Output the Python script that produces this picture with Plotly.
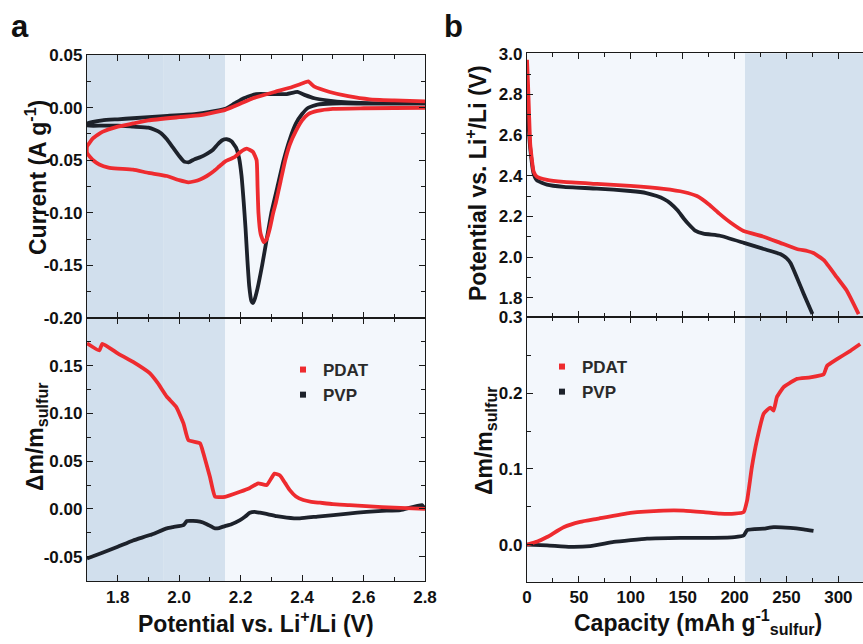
import plotly.graph_objects as go

# ---------------- DATA ----------------
# Panel a (top): cyclic voltammetry, potential (V) vs current (A/g); each loop = cathodic then anodic scan
pvp_cv_v = [2.80, 2.60, 2.50, 2.45, 2.42, 2.40, 2.38, 2.36, 2.34, 2.32, 2.30, 2.285, 2.27, 2.255, 2.245, 2.24,
            2.235, 2.228, 2.222, 2.216, 2.21, 2.203, 2.195, 2.185, 2.17, 2.155, 2.14, 2.125, 2.11, 2.09, 2.07,
            2.05, 2.03, 2.015, 2.00, 1.98, 1.96, 1.94, 1.92, 1.90, 1.85, 1.80, 1.75, 1.70,
            1.70, 1.75, 1.80, 1.85, 1.95, 2.05, 2.10, 2.15, 2.18, 2.21, 2.25, 2.30, 2.35, 2.385, 2.41, 2.44,
            2.48, 2.55, 2.65, 2.80]
pvp_cv_i = [0.004, 0.004, 0.004, 0.003, 0.000, -0.006, -0.015, -0.030, -0.050, -0.075, -0.100, -0.125, -0.150,
            -0.172, -0.183, -0.186, -0.184, -0.170, -0.145, -0.115, -0.090, -0.065, -0.048, -0.038, -0.032,
            -0.030, -0.031, -0.035, -0.040, -0.044, -0.047, -0.049, -0.052, -0.051, -0.046, -0.038, -0.030,
            -0.024, -0.021, -0.019, -0.018, -0.017, -0.017, -0.017,
            -0.015, -0.012, -0.011, -0.010, -0.008, -0.006, -0.004, -0.001, 0.004, 0.009, 0.013, 0.013, 0.013,
            0.015, 0.012, 0.009, 0.007, 0.005, 0.004, 0.004]

pdat_cv_v = [2.80, 2.60, 2.50, 2.45, 2.42, 2.40, 2.38, 2.36, 2.345, 2.33, 2.315, 2.306, 2.295, 2.285, 2.275,
             2.265, 2.258, 2.255, 2.252, 2.24, 2.22, 2.20, 2.18, 2.15, 2.13, 2.11, 2.09, 2.07, 2.05, 2.03,
             2.00, 1.96, 1.90, 1.85, 1.80, 1.77, 1.74, 1.72, 1.70,
             1.70, 1.72, 1.75, 1.80, 1.85, 1.90, 2.00, 2.07, 2.15, 2.20, 2.24, 2.31, 2.36, 2.40, 2.42, 2.44,
             2.49, 2.55, 2.62, 2.70, 2.80]
pdat_cv_i = [0.000, -0.0005, -0.001, -0.003, -0.006, -0.012, -0.022, -0.035, -0.050, -0.070, -0.090, -0.100,
             -0.115, -0.125, -0.128, -0.120, -0.100, -0.075, -0.050, -0.042, -0.039, -0.042, -0.047, -0.051,
             -0.056, -0.061, -0.065, -0.068, -0.070, -0.071, -0.069, -0.065, -0.062, -0.059, -0.058, -0.057,
             -0.054, -0.050, -0.043,
             -0.037, -0.029, -0.023, -0.018, -0.015, -0.012, -0.009, -0.007, -0.002, 0.004, 0.009, 0.015,
             0.019, 0.023, 0.025, 0.020, 0.015, 0.011, 0.008, 0.007, 0.006]

# Panel a (bottom): mass change vs potential
pdat_dm_v = [1.70, 1.74, 1.75, 1.80, 1.85, 1.905, 1.93, 1.96, 1.99, 2.014, 2.03, 2.068, 2.079, 2.10, 2.117,
             2.149, 2.198, 2.23, 2.257, 2.285, 2.31, 2.328, 2.345, 2.36, 2.38, 2.404, 2.43, 2.458, 2.50, 2.555,
             2.66, 2.80]
pdat_dm = [0.1735, 0.166, 0.173, 0.163, 0.154, 0.142, 0.132, 0.1175, 0.107, 0.0896, 0.072, 0.0687, 0.058,
           0.0337, 0.0127, 0.0127, 0.018, 0.022, 0.0267, 0.025, 0.037, 0.035, 0.027, 0.0197, 0.013, 0.0093,
           0.0075, 0.0065, 0.005, 0.004, 0.0019, 0.000]
pvp_dm_v = [1.70, 1.75, 1.80, 1.85, 1.905, 1.96, 1.98, 2.014, 2.025, 2.045, 2.068, 2.09, 2.117, 2.13, 2.149,
            2.17, 2.198, 2.215, 2.23, 2.245, 2.263, 2.28, 2.317, 2.35, 2.393, 2.45, 2.502, 2.55, 2.61, 2.66,
            2.72, 2.79, 2.80]
pvp_dm = [-0.0519, -0.046, -0.0397, -0.033, -0.0274, -0.0204, -0.019, -0.0169, -0.0127, -0.0125, -0.0134,
          -0.016, -0.0204, -0.020, -0.018, -0.016, -0.0117, -0.008, -0.004, -0.003, -0.004, -0.005, -0.0075,
          -0.009, -0.0099, -0.008, -0.0064, -0.005, -0.003, -0.002, -0.0012, 0.004, 0.000]

# Panel b (top): discharge potential vs capacity
pvp_cap = [0.5, 1.5, 3.2, 6.4, 9.6, 19.3, 35.3, 67.4, 99.5, 115, 125, 132, 138, 145, 151, 156, 162, 170, 186,
           209, 228, 244, 250, 254, 260, 266.5, 275]
pvp_pot = [2.75, 2.65, 2.53, 2.41, 2.377, 2.356, 2.345, 2.337, 2.325, 2.315, 2.30, 2.285, 2.265, 2.23, 2.19,
           2.16, 2.13, 2.115, 2.105, 2.07, 2.04, 2.015, 1.995, 1.97, 1.90, 1.82, 1.72]
pdat_cap = [0.0, 1.0, 2.0, 3.2, 6.4, 9.6, 19.3, 35.3, 67.4, 99.5, 131.6, 150.9, 163.7, 175, 185, 196, 208.7,
            228, 244, 260, 270, 276, 286, 298.6, 308, 319.5]
pdat_pot = [2.97, 2.85, 2.70, 2.55, 2.42, 2.395, 2.38, 2.37, 2.36, 2.35, 2.335, 2.32, 2.30, 2.26, 2.215,
            2.17, 2.128, 2.10, 2.07, 2.04, 2.03, 2.02, 1.985, 1.90, 1.836, 1.72]

# Panel b (bottom): mass change vs capacity
pdat_dm_cap = [0, 10, 19.3, 35.3, 51.3, 67.4, 99.5, 131.6, 150.9, 170.2, 186, 200, 208.7, 212, 216.6, 221.5,
               228, 234.4, 237.6, 240.8, 247.2, 253.7, 260, 272.9, 285.8, 289, 298.6, 311.5, 321]
pdat_dm_b = [0.0, 0.004, 0.010, 0.023, 0.030, 0.034, 0.042, 0.045, 0.045, 0.043, 0.041, 0.041, 0.043, 0.058,
             0.102, 0.138, 0.173, 0.181, 0.177, 0.195, 0.208, 0.214, 0.219, 0.221, 0.225, 0.236, 0.245, 0.256,
             0.265]
pvp_dm_cap = [0, 19.3, 41.7, 61, 83.5, 100, 115.6, 147.7, 179.8, 200, 208.7, 212, 228, 237.6, 253.7, 266.5, 276]
pvp_dm_b = [0.0, -0.001, -0.003, -0.002, 0.0035, 0.006, 0.008, 0.009, 0.009, 0.010, 0.012, 0.019, 0.021,
            0.023, 0.022, 0.020, 0.018]

# tick labels
a_cur_ticks = [0.05, 0.0, -0.05, -0.10, -0.15, -0.20]
a_cur_text = ["0.05", "0.00", "-0.05", "-0.10", "-0.15", "-0.20"]
a_dm_ticks = [0.15, 0.10, 0.05, 0.0, -0.05]
a_dm_text = ["0.15", "0.10", "0.05", "0.00", "-0.05"]
a_x_ticks = [1.8, 2.0, 2.2, 2.4, 2.6, 2.8]
a_x_text = ["1.8", "2.0", "2.2", "2.4", "2.6", "2.8"]
b_pot_ticks = [1.8, 2.0, 2.2, 2.4, 2.6, 2.8, 3.0]
b_pot_text = ["1.8", "2.0", "2.2", "2.4", "2.6", "2.8", "3.0"]
b_dm_ticks = [0.0, 0.1, 0.2, 0.3]
b_dm_text = ["0.0", "0.1", "0.2", "0.3"]
b_x_ticks = [0, 50, 100, 150, 200, 250, 300]
b_x_text = ["0", "50", "100", "150", "200", "250", "300"]

series_names = ["PDAT", "PVP"]

# ---------------- STYLE ----------------
RED = "#ee2b2f"
BLACK = "#1d222b"
DARK = "#d4e1ee"
DARK2 = "#d1dfed"
LIGHT = "#f3f7fc"
FONT = "Liberation Sans, Arial, sans-serif"
W, H = 863, 644

fig = go.Figure()

def line(x, y, color, xa, ya):
    fig.add_trace(go.Scatter(x=x, y=y, mode="lines", xaxis=xa, yaxis=ya, showlegend=False,
                             line=dict(color=color, width=3.8, shape="spline", smoothing=0.4),
                             hoverinfo="skip"))

line(pvp_cv_v, pvp_cv_i, BLACK, "x", "y")
line(pdat_cv_v, pdat_cv_i, RED, "x", "y")
line(pvp_dm_v, pvp_dm, BLACK, "x2", "y2")
line(pdat_dm_v, pdat_dm, RED, "x2", "y2")
line(pvp_cap, pvp_pot, BLACK, "x3", "y3")
line(pdat_cap, pdat_pot, RED, "x3", "y3")
line(pvp_dm_cap, pvp_dm_b, BLACK, "x4", "y4")
line(pdat_dm_cap, pdat_dm_b, RED, "x4", "y4")

# legend entries (marker-only)
for lg, xa, ya in (("legend", "x2", "y2"), ("legend2", "x4", "y4")):
    for name, col in zip(series_names, [RED, BLACK]):
        fig.add_trace(go.Scatter(x=[None], y=[None], mode="markers", name=name, legend=lg,
                                 xaxis=xa, yaxis=ya,
                                 marker=dict(symbol="square", size=6, color=col)))

def px_x(p):
    return p / W
def px_y(p):
    return 1 - p / H

tickfont = dict(family=FONT, size=17, color="#111", weight="bold")
common = dict(showline=True, linecolor="#1a1a1a", linewidth=1.3, ticks="inside", ticklen=6,
              tickwidth=1.3, tickcolor="#1a1a1a", showgrid=False, zeroline=False, tickfont=tickfont,
              automargin=False)

a_dom = [px_x(87), px_x(425)]
b_dom = [px_x(527), 1.0]

def minor(dt, t0):
    return dict(dtick=dt, tick0=t0, ticks="inside", ticklen=4, tickwidth=1.2, tickcolor="#1a1a1a")

fig.update_layout(
    template="none",
    width=W, height=H, autosize=False,
    margin=dict(l=0, r=0, t=0, b=0, pad=0, autoexpand=False),
    paper_bgcolor="white", plot_bgcolor="rgba(0,0,0,0)",
    xaxis=dict(domain=a_dom, range=[1.7, 2.8], anchor="y", tickvals=a_x_ticks, ticktext=a_x_text,
               showticklabels=False, mirror="ticks", minor=minor(0.1, 1.7), **common),
    yaxis=dict(domain=[px_y(318), px_y(55)], range=[-0.2002, 0.0502], anchor="x", tickvals=a_cur_ticks,
               ticktext=a_cur_text, mirror="ticks", minor=minor(0.025, 0), **common),
    xaxis2=dict(domain=a_dom, range=[1.7, 2.8], anchor="y2", tickvals=a_x_ticks, ticktext=a_x_text,
                mirror="ticks", minor=minor(0.1, 1.7), **common),
    yaxis2=dict(domain=[px_y(581), px_y(318)], range=[-0.0755, 0.2], anchor="x2", tickvals=a_dm_ticks,
                ticktext=a_dm_text, mirror="ticks", minor=minor(0.025, 0), **common),
    xaxis3=dict(domain=b_dom, range=[0, 323.7], anchor="y3", tickvals=b_x_ticks, ticktext=b_x_text,
                showticklabels=False, mirror="ticks", minor=minor(25, 0), **common),
    yaxis3=dict(domain=[px_y(317.3), px_y(53.3)], range=[1.704, 3.002], anchor="x3", tickvals=b_pot_ticks,
                ticktext=b_pot_text, mirror=False, minor=minor(0.1, 1.7), **common),
    xaxis4=dict(domain=b_dom, range=[0, 323.7], anchor="y4", tickvals=b_x_ticks, ticktext=b_x_text,
                mirror="ticks", minor=minor(25, 0), **common),
    yaxis4=dict(domain=[px_y(581.7), px_y(317.3)], range=[-0.049, 0.3003], anchor="x4", tickvals=b_dm_ticks,
                ticktext=b_dm_text, mirror=False, minor=minor(0.05, 0), **common),
    legend=dict(x=px_x(283), y=px_y(352), xanchor="left", yanchor="top", bgcolor="rgba(0,0,0,0)",
                font=dict(family=FONT, size=17, color="#2a2a2a", weight="bold"), tracegroupgap=0),
    legend2=dict(x=px_x(542), y=px_y(349), xanchor="left", yanchor="top", bgcolor="rgba(0,0,0,0)",
                 font=dict(family=FONT, size=17, color="#2a2a2a", weight="bold"), tracegroupgap=0),
)

shapes = [
    dict(type="rect", xref="x", yref="paper", x0=1.7, x1=1.95, y0=px_y(581), y1=px_y(55),
         fillcolor=DARK2, line=dict(width=0), layer="below"),
    dict(type="rect", xref="x", yref="paper", x0=1.95, x1=2.15, y0=px_y(581), y1=px_y(55),
         fillcolor=DARK, line=dict(width=0), layer="below"),
    dict(type="rect", xref="x", yref="paper", x0=2.15, x1=2.8, y0=px_y(581), y1=px_y(55),
         fillcolor=LIGHT, line=dict(width=0), layer="below"),
    dict(type="rect", xref="x3", yref="paper", x0=0, x1=210, y0=px_y(581.7), y1=px_y(53.3),
         fillcolor=LIGHT, line=dict(width=0), layer="below"),
    dict(type="rect", xref="x3", yref="paper", x0=210, x1=323.7, y0=px_y(581.7), y1=px_y(53.3),
         fillcolor=DARK, line=dict(width=0), layer="below"),
]
fig.update_layout(shapes=shapes)

title_font = dict(family=FONT, size=23, color="#111", weight="bold")
ann = [
    dict(text="a", x=px_x(20), y=px_y(26), font=dict(family=FONT, size=31, color="#111", weight="bold")),
    dict(text="b", x=px_x(453), y=px_y(26), font=dict(family=FONT, size=31, color="#111", weight="bold")),
    dict(text="Current (A g<sup>-1</sup>)", x=px_x(36), y=px_y(178), textangle=-90, font=title_font),
    dict(text="Δm/m<sub>sulfur</sub>", x=px_x(36), y=px_y(437), textangle=-90, font=title_font),
    dict(text="Potential vs. Li<sup>+</sup>/Li (V)", x=px_x(476), y=px_y(183), textangle=-90, font=title_font),
    dict(text="Δm/m<sub>sulfur</sub>", x=px_x(485), y=px_y(441), textangle=-90, font=title_font),
    dict(text="Potential vs. Li<sup>+</sup>/Li (V)", x=px_x(256), y=px_y(622), font=title_font),
    dict(text="Capacity (mAh g<sup>-1</sup><sub>sulfur</sub>)", x=px_x(698), y=px_y(622), font=title_font),
]
for a in ann:
    a.update(xref="paper", yref="paper", showarrow=False, xanchor="center", yanchor="middle")
fig.update_layout(annotations=ann)

fig.write_html("out.html",
               post_script="document.body.style.margin='0px';document.body.style.overflow='hidden';")
